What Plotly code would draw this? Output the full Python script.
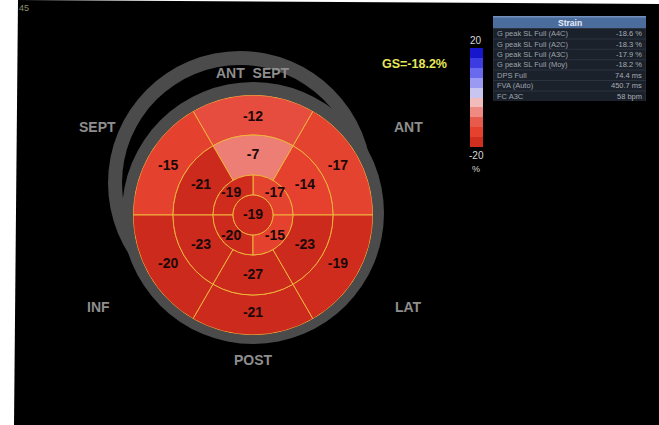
import plotly.graph_objects as go

# ---------------- data ----------------
basal_theta = [30, 90, 150, 210, 270, 330]
basal_values = [-17, -12, -15, -20, -21, -19]
mid_theta = [30, 90, 150, 210, 270, 330]
mid_values = [-14, -7, -21, -23, -27, -23]
apical_theta = [45, 135, 225, 315]
apical_values = [-17, -19, -20, -15]
apex_values = [-19]

ring_radii = [0, 20, 40, 80, 120]  # apex, apical, mid, basal boundaries

wall_labels = ["ANT  SEPT", "SEPT", "ANT", "INF", "LAT", "POST"]
global_strain = "GS=-18.2%"

table_labels = ["G peak SL Full (A4C)", "G peak SL Full (A2C)", "G peak SL Full (A3C)",
                "G peak SL Full (Moy)", "DPS Full", "FVA (Auto)", "FC A3C"]
table_values = ["-18.6 %", "-18.3 %", "-17.9 %", "-18.2 %", "74.4 ms", "450.7 ms", "58 bpm"]
table_title = "Strain"

scale_band_values = [-18, -14, -10, -6, -2, 2, 6, 10, 14, 18]
scale_ticks = ["20", "-20", "%"]

# ---------------- helpers / style ----------------
W, H = 659, 425
def px(x): return x / W
def py(y): return 1 - y / H

ZMIN, ZMAX = -20, 20
cs_stops = [-20, -18, -17.5, -14, -10, -6, -2, 2, 6, 10, 14, 18, 20]
cs_colors = ["#cc2a1c", "#d22e20", "#e4442f", "#e6402f", "#e85a4c", "#ee8a82", "#f2bcbc",
             "#c8c6f0", "#9a9af2", "#6a6aee", "#3c3ce2", "#1616cc", "#1010c0"]
colorscale = [[(s - ZMIN) / (ZMAX - ZMIN), c] for s, c in zip(cs_stops, cs_colors)]

LINE = "#f0b23c"
FONT = "Liberation Sans"
fig = go.Figure()

def ring(theta, values, width, r0, r1):
    fig.add_trace(go.Barpolar(
        theta=theta, r=[r1 - r0] * len(values), base=[r0] * len(values), width=[width] * len(values),
        marker=dict(color=values, colorscale=colorscale, cmin=ZMIN, cmax=ZMAX,
                    line=dict(color=LINE, width=1)),
        hoverinfo="skip", showlegend=False))

ring(basal_theta, basal_values, 60, ring_radii[3], ring_radii[4])
ring(mid_theta, mid_values, 60, ring_radii[2], ring_radii[3])
ring(apical_theta, apical_values, 90, ring_radii[1], ring_radii[2])
ring([0], apex_values, 360, ring_radii[0], ring_radii[1])

lab_r = ([98] * len(basal_values) + [60] * len(mid_values) + [31] * len(apical_values) + [0])
lab_t = basal_theta + mid_theta + apical_theta + [0]
lab_v = basal_values + mid_values + apical_values + apex_values
fig.add_trace(go.Scatterpolar(
    r=lab_r, theta=lab_t, mode="text", text=[f"<b>{v}</b>" for v in lab_v],
    textfont=dict(family=FONT, size=14, color="#1c0808"),
    hoverinfo="skip", showlegend=False))

# colour scale bar
fig.add_trace(go.Heatmap(
    z=[[v] for v in scale_band_values], y=scale_band_values, x=[0],
    colorscale=colorscale, zmin=ZMIN, zmax=ZMAX, showscale=False, hoverinfo="skip"))

fig.update_layout(
    width=W, height=H, margin=dict(l=0, r=0, t=0, b=0),
    paper_bgcolor="white", plot_bgcolor="rgba(0,0,0,0)",
    polar=dict(domain=dict(x=[px(133), px(373)], y=[py(335), py(95)]),
               bgcolor="rgba(0,0,0,0)", hole=0,
               radialaxis=dict(visible=False, range=[0, ring_radii[-1]]),
               angularaxis=dict(visible=False, rotation=0, direction="counterclockwise")),
    xaxis=dict(domain=[px(470), px(483)], visible=False),
    yaxis=dict(domain=[py(147), py(48)], visible=False, range=[-20, 20]),
)

def rect(x0, y0, x1, y1, color, layer="below"):
    return dict(type="rect", xref="paper", yref="paper", x0=px(x0), x1=px(x1), y0=py(y1), y1=py(y0),
                fillcolor=color, line=dict(width=0), layer=layer)

shapes = [
    dict(type="path", xref="paper", yref="paper",
         path=f"M{px(18)},{py(0)} L{px(659)},{py(4)} L{px(659)},{py(425)} L{px(14)},{py(425)} Z",
         fillcolor="black", line=dict(width=0), layer="below"),
    dict(type="circle", xref="paper", yref="paper", x0=px(108), x1=px(372), y0=py(315), y1=py(51),
         fillcolor="#4b4b4b", line=dict(width=0), layer="below"),
    dict(type="circle", xref="paper", yref="paper", x0=px(122), x1=px(358), y0=py(301), y1=py(65),
         fillcolor="black", line=dict(width=0), layer="below"),
    dict(type="circle", xref="paper", yref="paper", x0=px(122), x1=px(384), y0=py(344), y1=py(82),
         fillcolor="#4b4b4b", line=dict(width=0), layer="below"),
]

# table drawn with shapes + annotations
TX0, TX1, TY0, HDR = 493, 646, 16, 12
ROW = 10.4
shapes.append(rect(TX0, TY0, TX1, TY0 + HDR + ROW * len(table_labels), "#2c3340"))
shapes.append(rect(TX0, TY0, TX1, TY0 + HDR, "#4b6d9e"))
shapes.append(rect(TX0, TY0, TX1, TY0 + 1.5, "#7390bd"))
ann = []
for i, (lab, val) in enumerate(zip(table_labels, table_values)):
    y0 = TY0 + HDR + i * ROW
    shapes.append(rect(TX0 + 0.5, y0 + 1, TX1 - 0.5, y0 + ROW, "#1b212b"))
    yc = y0 + ROW / 2 + 0.5
    ann.append(dict(x=px(TX0 + 2), y=py(yc), xref="paper", yref="paper", text=lab, showarrow=False,
                    xanchor="left", yanchor="middle",
                    font=dict(family=FONT, size=7.5, color="#9ea3ab")))
    ann.append(dict(x=px(TX1 - 2), y=py(yc), xref="paper", yref="paper", text=val, showarrow=False,
                    xanchor="right", yanchor="middle",
                    font=dict(family=FONT, size=7.5, color="#a8acb3")))
ann.append(dict(x=px((TX0 + TX1) / 2), y=py(TY0 + HDR / 2 + 0.5), xref="paper", yref="paper",
                text=f"<b>{table_title}</b>", showarrow=False, xanchor="center", yanchor="middle",
                font=dict(family=FONT, size=8.5, color="#e8eef8")))
fig.update_layout(shapes=shapes)

def label(text, x, y, size, color):
    ann.append(dict(x=px(x), y=py(y), xref="paper", yref="paper", text=text, showarrow=False,
                    xanchor="center", yanchor="middle", font=dict(family=FONT, size=size, color=color)))

wall_pos = [(253, 73), (97, 127), (408, 127), (98, 307), (408, 307), (253, 360)]
for t, (x, y) in zip(wall_labels, wall_pos):
    label(f"<b>{t}</b>", x, y, 14, "#8e8e8e")
label(f"<b>{global_strain}</b>", 414, 64, 12.5, "#e6e65a")
label("45", 24, 8, 9, "#8f8f70")
for t, y, s in zip(scale_ticks, [40, 155, 169], [10, 10, 9]):
    label(t, 476, y, s, "#d8d8d8")
fig.update_layout(annotations=ann)

fig.write_html("out.html")
